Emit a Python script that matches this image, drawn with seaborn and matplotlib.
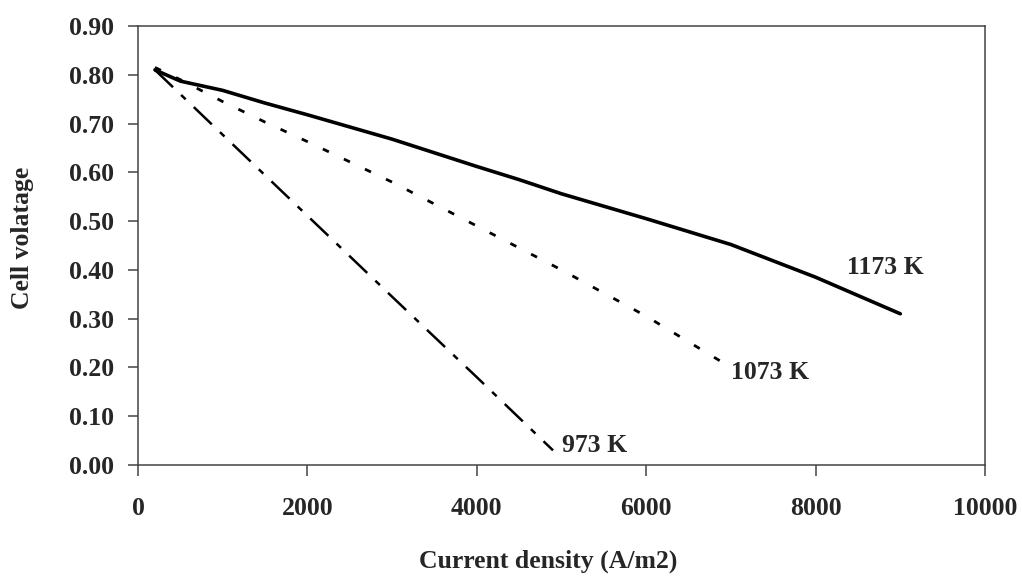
import matplotlib
matplotlib.use("Agg")
import matplotlib.pyplot as plt
import seaborn as sns
import pandas as pd

# Data
current_1173 = [200, 500, 1000, 1500, 2000, 3000, 4000, 4500, 5000, 6000, 7000, 8000, 9000]
voltage_1173 = [0.81, 0.787, 0.768, 0.742, 0.718, 0.668, 0.612, 0.585, 0.556, 0.505, 0.452, 0.385, 0.31]

current_1073 = [200, 500, 1000, 1500, 2000, 3000, 4000, 5000, 6000, 7000]
voltage_1073 = [0.815, 0.79, 0.745, 0.703, 0.663, 0.58, 0.49, 0.40, 0.305, 0.20]

current_973 = [200, 1000, 2000, 3000, 4000, 4900]
voltage_973 = [0.81, 0.677, 0.511, 0.345, 0.18, 0.03]

series_labels = ["1173 K", "1073 K", "973 K"]
x_ticks = [0, 2000, 4000, 6000, 8000, 10000]
y_ticks = [0.0, 0.1, 0.2, 0.3, 0.4, 0.5, 0.6, 0.7, 0.8, 0.9]

sns.set_theme(style="white")
plt.rcParams["font.family"] = ["Liberation Serif", "DejaVu Serif"]
plt.rcParams["font.weight"] = "bold"

FS = 18.5
W, H = 1022, 576
fig = plt.figure(figsize=(W / 100, H / 100), dpi=100)
left, right, top, bottom = 138, 985, 26, 465
ax = fig.add_axes([left / W, (H - bottom) / H, (right - left) / W, (bottom - top) / H])

df1 = pd.DataFrame({"x": current_1173, "y": voltage_1173})
df2 = pd.DataFrame({"x": current_1073, "y": voltage_1073})
df3 = pd.DataFrame({"x": current_973, "y": voltage_973})

sns.lineplot(data=df1, x="x", y="y", ax=ax, color="black", linewidth=2.6,
             estimator=None, sort=False, linestyle="-")
sns.lineplot(data=df2, x="x", y="y", ax=ax, color="black", linewidth=2.0,
             estimator=None, sort=False, linestyle=(0, (2.4, 6.0)))
sns.lineplot(data=df3, x="x", y="y", ax=ax, color="black", linewidth=1.8,
             estimator=None, sort=False, linestyle=(0, (10, 4.5, 2.5, 4.5)))

ax.set_xlim(0, 10000)
ax.set_ylim(0, 0.9)
ax.set_xticks(x_ticks)
ax.set_xticklabels([str(v) for v in x_ticks])
ax.set_yticks(y_ticks)
ax.set_yticklabels([f"{v:.2f}" for v in y_ticks])

for s in ax.spines.values():
    s.set_visible(True)
    s.set_color("#444444")
    s.set_linewidth(1.1)

ax.tick_params(axis="x", direction="out", length=8, width=1.1, color="#444444",
               pad=15, labelsize=FS)
ax.tick_params(axis="y", direction="out", length=7, width=1.1, color="#444444",
               pad=10, labelsize=FS)
ax.tick_params(bottom=True, left=True, top=False, right=False)
for lbl in ax.get_xticklabels() + ax.get_yticklabels():
    lbl.set_fontweight("bold")

ax.set_xlabel("")
ax.set_ylabel("")
fig.text(548 / W, 1 - 561 / H, "Current density (A/m2)", ha="center", va="center",
         fontsize=FS, fontweight="bold")
fig.text(22 / W, 1 - 238 / H, "Cell volatage", ha="center", va="center",
         rotation=90, fontsize=FS, fontweight="bold")

ax.text(8370, 0.404, series_labels[0], ha="left", va="center", fontsize=FS, fontweight="bold")
ax.text(7000, 0.19, series_labels[1], ha="left", va="center", fontsize=FS, fontweight="bold")
ax.text(5006, 0.041, series_labels[2], ha="left", va="center", fontsize=FS, fontweight="bold")

fig.savefig("out.png", dpi=100, facecolor="white")
